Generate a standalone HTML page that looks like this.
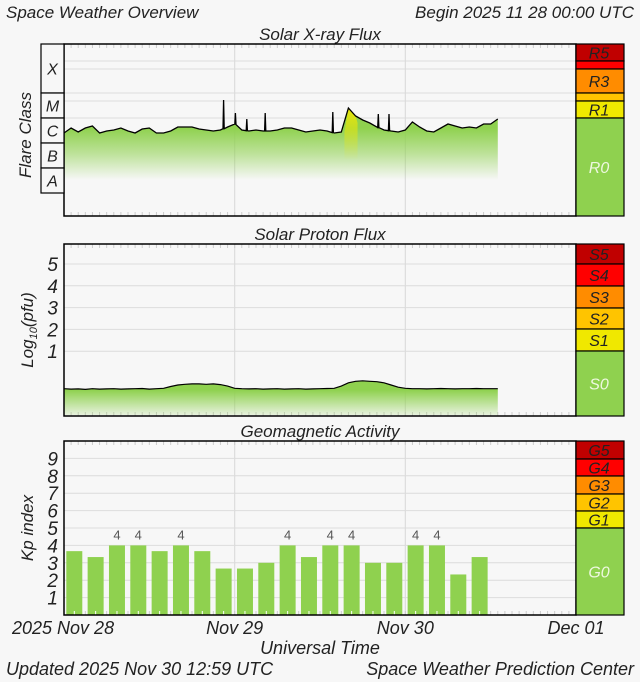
<!DOCTYPE html>
<html><head><meta charset="utf-8">
<style>
html,body{margin:0;padding:0;background:#f7f7f7;}
svg{display:block;}
text{font-family:"Liberation Sans",sans-serif;font-style:italic;fill:#222;}
</style></head>
<body>
<svg id="chart" width="640" height="682" viewBox="0 0 640 682" xmlns="http://www.w3.org/2000/svg">
<defs>
<linearGradient id="gx" gradientUnits="userSpaceOnUse" x1="0" y1="128" x2="0" y2="180">
<stop offset="0" stop-color="#8fd14f" stop-opacity="1"/><stop offset="0.5" stop-color="#8fd14f" stop-opacity="0.55"/><stop offset="1" stop-color="#8fd14f" stop-opacity="0"/></linearGradient>
<linearGradient id="gy" gradientUnits="userSpaceOnUse" x1="0" y1="100" x2="0" y2="160">
<stop offset="0" stop-color="#f5e800" stop-opacity="1"/><stop offset="1" stop-color="#f5e800" stop-opacity="0"/></linearGradient>
<linearGradient id="gp" gradientUnits="userSpaceOnUse" x1="0" y1="390" x2="0" y2="418">
<stop offset="0" stop-color="#8fd14f" stop-opacity="1"/><stop offset="1" stop-color="#8fd14f" stop-opacity="0.05"/></linearGradient>
</defs>
<g id="root"></g>
</svg>
<script>
// X-ray flux, hourly log10(W/m2) from 2025-11-28 00:00
const xrayHours = [0,1,2,3,4,5,6,7,8,9,10,11,12,13,14,15,16,17,18,19,20,21,22,23,24,25,26,27,28,29,30,31,32,33,34,35,36,37,38,39,40,41,42,43,44,45,46,47,48,49,50,51,52,53,54,55,56,57,58,59,60,61];
const xrayLog = [-6.60,-6.40,-6.56,-6.40,-6.32,-6.60,-6.52,-6.48,-6.40,-6.52,-6.60,-6.44,-6.40,-6.60,-6.60,-6.52,-6.36,-6.36,-6.36,-6.44,-6.48,-6.52,-6.48,-6.36,-6.24,-6.48,-6.52,-6.48,-6.52,-6.52,-6.48,-6.40,-6.40,-6.48,-6.56,-6.52,-6.48,-6.52,-6.60,-6.56,-5.60,-5.92,-6.08,-6.20,-6.36,-6.48,-6.52,-6.56,-6.48,-6.16,-6.36,-6.52,-6.56,-6.40,-6.24,-6.32,-6.40,-6.36,-6.40,-6.24,-6.24,-6.04];
const spikeHours = [22.45,24.1,25.7,28.3,37.8,44.2,45.7];
const spikeLog = [-5.28,-5.80,-6.04,-5.80,-5.76,-5.84,-5.84];
// Proton flux, hourly log10(pfu)
const protonLog = [-0.72,-0.74,-0.73,-0.75,-0.72,-0.74,-0.73,-0.72,-0.74,-0.73,-0.72,-0.71,-0.74,-0.72,-0.70,-0.62,-0.55,-0.52,-0.50,-0.50,-0.52,-0.50,-0.53,-0.60,-0.70,-0.72,-0.73,-0.72,-0.74,-0.73,-0.72,-0.74,-0.73,-0.72,-0.74,-0.73,-0.72,-0.71,-0.70,-0.60,-0.45,-0.38,-0.36,-0.38,-0.40,-0.45,-0.55,-0.65,-0.70,-0.72,-0.72,-0.73,-0.72,-0.71,-0.72,-0.73,-0.72,-0.72,-0.71,-0.72,-0.72,-0.72];
// Kp index, 3-hour bins
const kpValues = [3.67,3.33,4,4,3.67,4,3.67,2.67,2.67,3,4,3.33,4,4,3,3,4,4,2.33,3.33];
const dayLabels = ["2025 Nov 28","Nov 29","Nov 30","Dec 01"];
const flareClasses = ["X","M","C","B","A"];
const protonTicks = [1,2,3,4,5];
const kpTicks = [1,2,3,4,5,6,7,8,9];

const NS="http://www.w3.org/2000/svg";
const root=document.getElementById('root');
function mk(tag,attrs,parent){const e=document.createElementNS(NS,tag);for(const k in attrs)e.setAttribute(k,attrs[k]);(parent||root).appendChild(e);return e;}
function txt(x,y,s,size,anchor,parent){const t=mk('text',{x:x,y:y,'font-size':size,'text-anchor':anchor||'start'},parent);t.textContent=s;return t;}

const X0=64,X1=576,HOURS=72;
const xT=h=>X0+h*(X1-X0)/HOURS;
const yX=l=>118+(-6-l)*25;
const yP=v=>373-v*21.8;
const yK=k=>615-17.4*k;

function panel(top,bot,hgrid,name){
  const g=mk('g',{});
  
  
  mk('rect',{x:X0,y:top,width:X1-X0,height:bot-top,fill:'#f7f7f7'},g);
  hgrid.forEach(y=>mk('line',{x1:X0,x2:X1,y1:y,y2:y,stroke:'#dcdcdc','stroke-width':1},g));
  [24,48].forEach(h=>mk('line',{x1:xT(h),x2:xT(h),y1:top,y2:bot,stroke:'#dcdcdc','stroke-width':1.2},g));
  for(let h=1;h<72;h++){
    mk('line',{x1:xT(h),x2:xT(h),y1:top,y2:top+4,stroke:'#ccc'},g);
    mk('line',{x1:xT(h),x2:xT(h),y1:bot-4,y2:bot,stroke:'#ccc'},g);
  }
  return g;
}
function frame(top,bot){
  mk('rect',{x:X0,y:top,width:X1-X0,height:bot-top,fill:'none',stroke:'#000','stroke-width':1.5});
}
function scale(parts,name){
  const g=mk('g',{});
  
  
  parts.forEach(p=>{
    mk('rect',{x:576,y:p[0],width:48,height:p[1]-p[0],fill:p[2],stroke:'#000','stroke-width':1.2},g);
    if(p[3]){const t=txt(599,(p[0]+p[1])/2+6,p[3],16,'middle',g);if(p[4])t.style.fill=p[4];}
  });
}

// header
let t=txt(6,18,"Space Weather Overview",17);
t=txt(634,18,"Begin 2025 11 28 00:00 UTC",17,'end');

// ---------- X-ray ----------
t=txt(320,40,"Solar X-ray Flux",17,'middle');
const gx=panel(44,216,[61,69,93,101,118],'xray-panel');
let pts=xrayHours.map((h,i)=>[xT(h),yX(xrayLog[i])]);
spikeHours.forEach((h,i)=>{
  const x=xT(h);let j=pts.findIndex(p=>p[0]>x);
  const base=pts[j-1][1]+(pts[j][1]-pts[j-1][1])*(x-pts[j-1][0])/(pts[j][0]-pts[j-1][0]);
  pts.splice(j,0,[x-0.6,base],[x,yX(spikeLog[i])],[x+0.6,base]);
});
const lineStr=pts.map(p=>p[0].toFixed(1)+','+p[1].toFixed(1)).join(' ');
const last=pts[pts.length-1][0];
let f=mk('polygon',{points:lineStr+` ${last},182 ${X0},182`,fill:'url(#gx)'},gx);


let yp=[];xrayHours.forEach((h,i)=>{if(xrayLog[i]>-5.95)yp.push([xT(h),yX(xrayLog[i])]);});
if(yp.length){const a=yp[0][0]-4,b=yp[yp.length-1][0]+2;
  f=mk('polygon',{points:`${a},${yX(-6.56)} `+yp.map(p=>p.join(',')).join(' ')+` ${b},${yX(-6.2)} ${b},160 ${a},160`,fill:'url(#gy)'},gx);
  
  }
let l=mk('polyline',{points:lineStr,fill:'none',stroke:'#000','stroke-width':1.3},gx);


frame(44,216);
const fb=[[44,93],[93,118],[118,143],[143,168],[168,193]];
flareClasses.forEach((c,i)=>{
  const r=mk('rect',{x:41,y:fb[i][0],width:23,height:fb[i][1]-fb[i][0],fill:'#f7f7f7',stroke:'#000','stroke-width':1.2});
  
  
  txt(52.5,(fb[i][0]+fb[i][1])/2+6,c,16,'middle');
});
t=txt(0,0,"Flare Class",17,'middle');t.setAttribute('transform','translate(31,135) rotate(-90)');
scale([[44,61,'#c00000','R5'],[61,69,'#ff0000'],[69,93,'#ff8c00','R3'],[93,101,'#ffc400'],[101,118,'#f0e800','R1'],[118,216,'#8fd14f','R0','#eef8e0']],'radio-blackout-scale');

// ---------- Proton ----------
t=txt(320,240,"Solar Proton Flux",17,'middle');
const gp=panel(244,416,protonTicks.map(yP),'proton-panel');
const pp=protonLog.map((v,i)=>[xT(i),yP(v)]);
const pStr=pp.map(p=>p[0].toFixed(1)+','+p[1].toFixed(1)).join(' ');
f=mk('polygon',{points:pStr+` ${pp[pp.length-1][0]},415 ${X0},415`,fill:'url(#gp)'},gp);


l=mk('polyline',{points:pStr,fill:'none',stroke:'#000','stroke-width':1.2},gp);


frame(244,416);
protonTicks.forEach(v=>txt(58,yP(v)+7,String(v),19,'end'));
t=mk('text',{'font-size':17,'text-anchor':'middle',transform:'translate(33,330) rotate(-90)'});
t.innerHTML='Log<tspan font-size="11" dy="4">10</tspan><tspan dy="-4">(pfu)</tspan>';

scale([[244,264,'#c00000','S5'],[264,286,'#ff0000','S4'],[286,308,'#ff8c00','S3'],[308,329,'#ffc400','S2'],[329,351,'#f0e800','S1'],[351,416,'#8fd14f','S0','#eef8e0']],'radiation-storm-scale');

// ---------- Kp ----------
t=txt(320,437,"Geomagnetic Activity",17,'middle');
const gk=panel(441,615,kpTicks.map(yK),'kp-panel');
const bw=(X1-X0)/24;
kpValues.forEach((k,i)=>{
  const x=X0+i*bw+2.3;
  const b=mk('rect',{x:x,y:yK(k),width:16,height:615-yK(k),fill:'#8fd14f'},gk);
  
  
  mk('line',{x1:x+8,x2:x+8,y1:611,y2:615,stroke:'#fff'},gk);
  if(k>=4){const lt=txt(x+8,yK(k)-6,String(Math.round(k)),13,'middle',gk);lt.style.fontStyle='normal';lt.style.fill='#555';}
});
frame(441,615);
kpTicks.forEach(v=>txt(58,yK(v)+7,String(v),19,'end'));
t=txt(0,0,"Kp index",17,'middle');t.setAttribute('transform','translate(33,528) rotate(-90)');
scale([[441,459,'#c00000','G5'],[459,476,'#ff0000','G4'],[476,494,'#ff8c00','G3'],[494,511,'#ffc400','G2'],[511,528,'#f0e800','G1'],[528,615,'#8fd14f','G0','#eef8e0']],'geomagnetic-storm-scale');

[0,24,48,72].forEach((h,i)=>{
  const tt=txt(i==0?12:xT(h),634,dayLabels[i],18,i==0?'start':'middle');
  
  
});
t=txt(320,654,"Universal Time",18,'middle');
t=txt(6,675,"Updated 2025 Nov 30 12:59 UTC",18);
t=txt(634,675,"Space Weather Prediction Center",18,'end');
</script>
</body></html>
